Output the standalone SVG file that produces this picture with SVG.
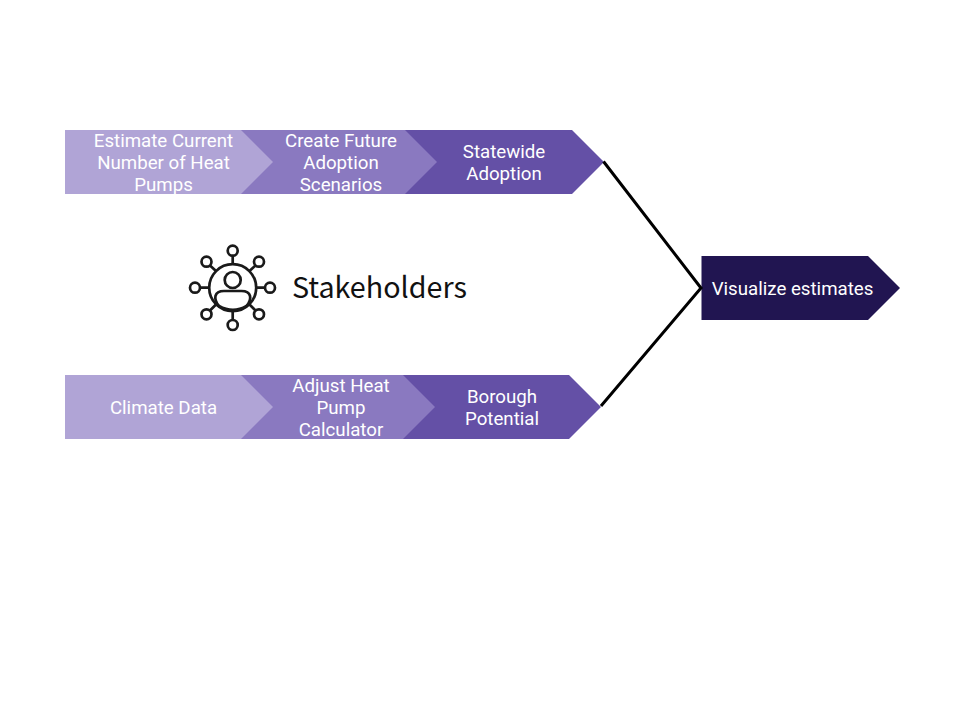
<svg xmlns="http://www.w3.org/2000/svg" width="960" height="720" viewBox="0 0 960 720">
<style>
.l{font-family:Roboto,"Liberation Sans",sans-serif;font-size:18.7px;fill:#fff;text-anchor:middle}
.a{fill:#b0a4d6}.b{fill:#8a79c0}.c{fill:#6450a6}
.k{fill:none;stroke:#000;stroke-width:3}
.i{fill:none;stroke:#1a1a1a;stroke-width:2.7}
</style>
<rect width="960" height="720" fill="#fff"/>
<g id="n3"><path class="c" d="M395 130H572L604 162L572 194H395Z"/><text class="l" x="504" y="158">Statewide</text><text class="l" x="504" y="180">Adoption</text></g>
<g id="n2"><path class="b" d="M231 130H405L437 162L405 194H231Z"/><text class="l" x="341" y="147">Create Future</text><text class="l" x="341" y="169">Adoption</text><text class="l" x="341" y="191">Scenarios</text></g>
<g id="n1"><path class="a" d="M65 130H241L273 162L241 194H65Z"/><text class="l" x="163.500" y="147">Estimate Current</text><text class="l" x="163.500" y="169">Number of Heat</text><text class="l" x="163.500" y="191">Pumps</text></g>
<g id="n6"><path class="c" d="M393 375H569L601 407L569 439H393Z"/><text class="l" x="502" y="403">Borough</text><text class="l" x="502" y="425">Potential</text></g>
<g id="n5"><path class="b" d="M231 375H403L435 407L403 439H231Z"/><text class="l" x="341" y="392">Adjust Heat</text><text class="l" x="341" y="414">Pump</text><text class="l" x="341" y="436">Calculator</text></g>
<g id="n4"><path class="a" d="M65 375H241L273 407L241 439H65Z"/><text class="l" x="163.500" y="414">Climate Data</text></g>
<g id="n7"><path fill="#211551" d="M701.500 256H868L900 288L868 320H701.500Z"/><text class="l" x="792.500" y="295">Visualize estimates</text></g>
<g id="connectors"><path class="k" d="M603.500 161.500L701 288L601 406"/></g>
<g id="stakeholders">
<g class="i">
<circle cx="232.700" cy="287.700" r="23.500"/><circle cx="232.700" cy="280" r="8"/>
<path d="M219 306C213 299 214 291 224 291H241.500C251.500 291 252.500 299 246.500 306C238 311 228 311 219 306Z"/>
<path d="M232.700 255.700V264.200M232.700 311.200V320M200 287.700H209.200M256.200 287.700H265M210 265.500L216 271M255.500 265.500L249.500 271M210 310.500L216 304.500M255.500 310.500L249.500 304.500"/>
<circle cx="232.700" cy="250.700" r="5"/><circle cx="232.700" cy="325" r="5"/><circle cx="195" cy="287.700" r="5"/><circle cx="270" cy="287.700" r="5"/>
<circle cx="206.500" cy="261.700" r="5"/><circle cx="259" cy="261.700" r="5"/><circle cx="206.500" cy="314.300" r="5"/><circle cx="259" cy="314.300" r="5"/>
</g>
<text x="292" y="297.500" font-family="'Noto Sans CJK SC','Noto Sans',sans-serif" font-size="28.700" fill="#111">Stakeholders</text>
</g>
</svg>
